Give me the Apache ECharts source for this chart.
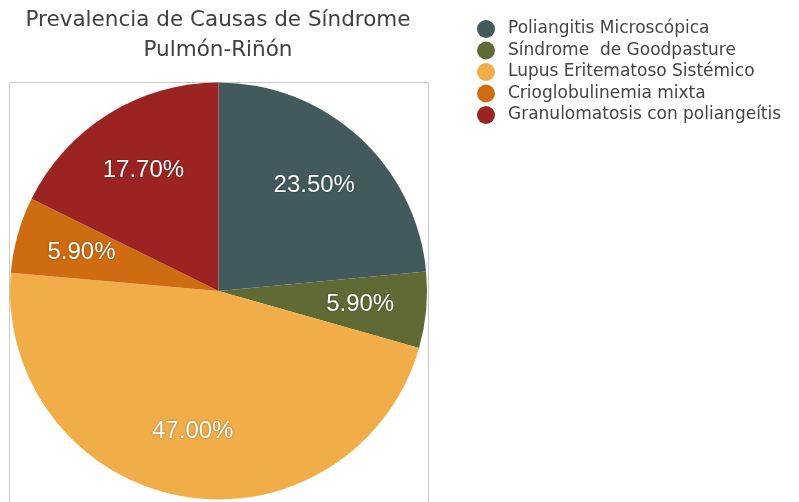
<!DOCTYPE html>
<html>
<head>
<meta charset="utf-8">
<script src="https://cdn.jsdelivr.net/npm/echarts@6/dist/echarts.min.js"></script>
<style>
html,body{margin:0;padding:0;background:#fff;}
#main{width:799px;height:502px;}
</style>
</head>
<body>
<div id="main"></div>
<script>
const categories = ['Poliangitis Microscópica', 'Síndrome  de Goodpasture', 'Lupus Eritematoso Sistémico', 'Crioglobulinemia mixta', 'Granulomatosis con poliangeítis'];
const values = [23.5, 5.9, 47.0, 5.9, 17.7];
const colors = ['#425a5c', '#606a35', '#f1ad48', '#cf6b10', '#9b2422'];
const titleText = 'Prevalencia de Causas de Síndrome\nPulmón-Riñón';

const chart = echarts.init(document.getElementById('main'), null, {renderer: 'canvas'});
const pieData = categories.map((c, i) => ({name: c, value: values[i], itemStyle: {color: colors[i]}}));
const labelData = categories.map((c, i) => ({name: c, value: values[i]}));

chart.setOption({
  animation: false,
  color: colors,
  title: {
    text: titleText,
    left: 218,
    top: 5,
    padding: 0,
    textAlign: 'center',
    textStyle: {
      fontFamily: 'DejaVu Sans',
      fontSize: 21.5,
      fontWeight: 'normal',
      color: '#404040',
      lineHeight: 30
    }
  },
  legend: {
    orient: 'vertical',
    left: 477,
    top: 20,
    padding: 0,
    icon: 'circle',
    itemWidth: 34,
    itemHeight: 18,
    itemGap: 3.5,
    data: categories,
    textStyle: {
      fontFamily: 'DejaVu Sans',
      fontSize: 17,
      lineHeight: 18,
      color: '#444444'
    }
  },
  graphic: [{
    type: 'rect',
    silent: true,
    z: -1,
    shape: {x: 9.5, y: 82.5, width: 419, height: 440},
    style: {fill: '#ffffff', stroke: '#c9c9c9', lineWidth: 1}
  }],
  series: [{
    type: 'pie',
    center: [218.5, 291],
    radius: [0, 208.5],
    startAngle: 90,
    clockwise: true,
    silent: true,
    label: {show: false},
    labelLine: {show: false},
    itemStyle: {borderWidth: 0},
    data: pieData
  }, {
    type: 'pie',
    center: [218.5, 291],
    radius: [70, 208.5],
    startAngle: 90,
    clockwise: true,
    silent: true,
    z: 3,
    itemStyle: {color: 'rgba(0,0,0,0)', borderWidth: 0},
    label: {
      show: true,
      position: 'inside',
      formatter: p => p.value.toFixed(2) + '%',
      fontFamily: 'Liberation Sans',
      fontSize: 24,
      fontWeight: 'normal',
      color: '#ffffff',
      textShadowColor: 'rgba(0,0,0,0.45)',
      textShadowBlur: 2
    },
    labelLine: {show: false},
    data: labelData
  }]
});
</script>
</body>
</html>
